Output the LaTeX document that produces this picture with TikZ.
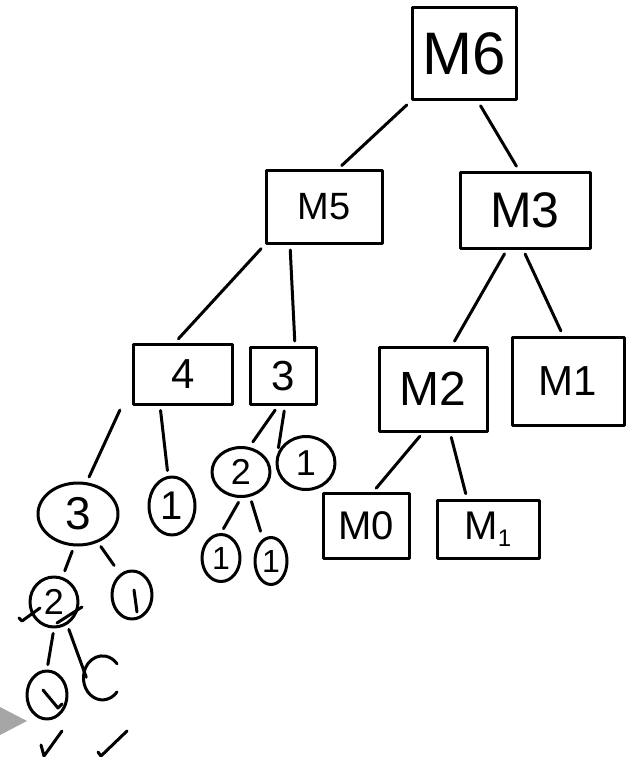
\documentclass[tikz,border=0pt]{standalone}
\usepackage{fontspec}
\setmainfont{Liberation Sans}
\usetikzlibrary{shapes.geometric}
\begin{document}
\begin{tikzpicture}[x=1pt,y=-1pt,line width=3pt,line cap=round,line join=round]
\tikzset{
  box/.style={draw,rectangle,inner sep=0pt},
  circ/.style={draw,ellipse,inner sep=0pt},
  edge/.style={shorten >=5pt,shorten <=5pt},
  fs/.style={font=\fontsize{#1}{#1}\selectfont}
}
\useasboundingbox (0,0) rectangle (635,757);
% rectangles
\node[box,fs=60,minimum width=104pt,minimum height=92pt] (M6) at (464,54) {M6};
\node[box,fs=38,minimum width=116pt,minimum height=73pt] (M5) at (324,207) {M5};
\node[box,fs=50,minimum width=130pt,minimum height=76pt] (M3) at (525,210) {M3};
\node[box,fs=42,minimum width=99pt,minimum height=60pt] (R4) at (183,374) {4};
\node[box,fs=42,minimum width=66pt,minimum height=57pt] (R3) at (283,376) {3};
\node[box,fs=48,minimum width=108pt,minimum height=84pt] (M2) at (433,389) {M2};
\node[box,fs=42,minimum width=112pt,minimum height=88pt] (M1) at (568,381) {M1};
\node[box,fs=40,minimum width=86pt,minimum height=65pt] (M0) at (366,526) {M0};
\node[box,fs=40,minimum width=102pt,minimum height=58pt] (M1s) at (488,529) {M\raisebox{-7pt}{\fontsize{24}{24}\selectfont 1}};
% circles
\node[circ,fs=46,minimum width=80pt,minimum height=62pt] (C3) at (78,514) {3};
\node[circ,fs=40,minimum width=46pt,minimum height=58pt] (C1a) at (172,506) {1};
\node[circ,fs=36,minimum width=48pt,minimum height=50pt] (C2a) at (54,602) {2};
\node[circ,minimum width=40pt,minimum height=48pt] (C1b) at (132,595) {};
\node[circ,minimum width=40pt,minimum height=48pt] (C1c) at (47,695) {};
\node[circ,fs=36,minimum width=58pt,minimum height=49pt] (C2b) at (241,472) {2};
\node[circ,fs=36,minimum width=58pt,minimum height=53pt] (C1d) at (306,463) {1};
\node[circ,fs=32,minimum width=38pt,minimum height=47pt] (C1e) at (221,558) {1};
\node[circ,fs=32,minimum width=32pt,minimum height=47pt] (C1f) at (271,561) {1};
\coordinate (Ctop) at (88,682);
% open circle
\draw (117,692) arc[start angle=-40,end angle=-320,x radius=19pt,y radius=22pt];
% strokes inside circles
\draw (134,590) -- (137,612);
\draw (43,690) -- (58,708) -- (62,704);
% cross marks over the 2
\draw (19,618) -- (22,621) -- (40,608);
\draw (57,623) -- (82,607);
% check marks at bottom
\draw (41,745) -- (44,756) -- (62,731);
\draw (98,752) -- (101,756) -- (127,731);
% gray triangle
\fill[gray!70] (0,707) -- (27,721) -- (0,735) -- cycle;
% edges
\draw[edge] (M6.south west) -- ([xshift=14pt]M5.north);
\draw[edge] ([xshift=14pt]M6.south) -- ([xshift=-6pt]M3.north);
\draw[edge] (M5.south west) -- ([xshift=-8pt]R4.north);
\draw[edge] ([xshift=-34pt]M5.south) -- ([xshift=12pt]R3.north);
\draw[edge] ([xshift=-18pt]M3.south) -- ([xshift=19pt]M2.north);
\draw[edge] ([xshift=-2pt]M3.south) -- ([xshift=-5pt]M1.north);
\draw[edge] ([xshift=-10pt]R4.south west) -- ([xshift=9pt]C3.north);
\draw[edge] ([xshift=-23pt]R4.south) -- ([xshift=-4pt]C1a.north);
\draw[edge] ([xshift=-5pt]R3.south) -- ([xshift=9pt]C2b.north);
\draw[edge] ([xshift=2pt]R3.south) -- (C1d.160);
\draw[edge] (C2b.south) -- (C1e.north);
\draw[edge] (C2b.-70) -- ([xshift=-9pt]C1f.north);
\draw[edge] ([xshift=-10pt]M2.south) -- ([xshift=7pt]M0.north);
\draw[edge] ([xshift=17pt]M2.south) -- ([xshift=-21pt]M1s.north);
\draw[edge] ([xshift=-4pt]C3.south) -- ([xshift=9pt]C2a.north);
\draw[edge] (C3.-55) -- ([xshift=-15pt]C1b.north);
\draw[edge] (C2a.south) -- (C1c.north);
\draw[edge] (C2a.-60) -- (Ctop);
\end{tikzpicture}
\end{document}
